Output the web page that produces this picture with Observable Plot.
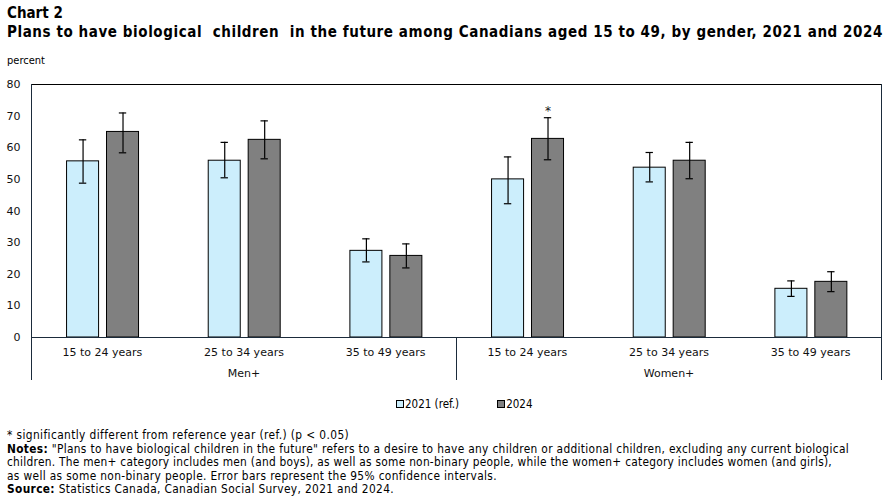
<!DOCTYPE html>
<html><head><meta charset="utf-8">
<script src="https://cdn.jsdelivr.net/npm/d3@7"></script>
<script src="https://cdn.jsdelivr.net/npm/@observablehq/plot@0.6"></script>
<style>
body{margin:0;background:#fff;width:889px;height:498px;position:relative;overflow:hidden;font-family:"DejaVu Sans Condensed","DejaVu Sans",sans-serif;color:#000}
.abs{position:absolute;white-space:nowrap}
#t1{left:7px;top:4px;font-weight:bold;font-size:15px}
#t2{left:7px;top:23px;font-weight:bold;font-size:15px}
#unit{left:7px;top:54px;font-size:11px}
#chart{position:absolute;left:0;top:74px}
#legend{top:397px;left:396px;font-size:11.5px;display:flex;align-items:center}
.sw{display:inline-block;width:6px;height:6px;border:1px solid #000;margin-right:1px}
#notes{left:7px;top:429px;font-size:11.8px;line-height:13.5px}
</style></head><body>
<div class="abs" id="t1">Chart 2</div>
<div class="abs" id="t2">Plans to have biological&nbsp; children&nbsp; in the future among Canadians aged 15 to 49, by gender, 2021 and 2024</div>
<div class="abs" id="unit">percent</div>
<div id="chart"></div>
<div class="abs" id="legend"></div>
<div class="abs" id="notes">
<span class="fit" data-w="342">* significantly different from reference year (ref.) (p &lt; 0.05)</span><br>
<span class="fit" data-w="842"><b>Notes:</b> "Plans to have biological children in the future" refers to a desire to have any children or additional children, excluding any current biological</span><br>
<span class="fit" data-w="825">children. The men+ category includes men (and boys), as well as some non-binary people, while the women+ category includes women (and girls),</span><br>
<span class="fit" data-w="490">as well as some non-binary people. Error bars represent the 95% confidence intervals.</span><br>
<span class="fit" data-w="387"><b>Source:</b> Statistics Canada, Canadian Social Survey, 2021 and 2024.</span>
</div>
<script>
const genders = ["Men+", "Women+"];
const ageGroups = ["15 to 24 years", "25 to 34 years", "35 to 49 years"];
const years = ["2021 (ref.)", "2024"];
// order: Men+ (3 age groups), Women+ (3 age groups)
const values2021 = [55.7, 55.9, 27.4, 50.0, 53.7, 15.4];
const low2021    = [48.8, 50.5, 23.9, 42.3, 49.2, 13.0];
const high2021   = [62.5, 61.7, 31.2, 57.1, 58.5, 17.9];
const values2024 = [65.0, 62.5, 25.8, 62.8, 55.9, 17.6];
const low2024    = [58.4, 56.5, 22.0, 56.2, 50.2, 14.5];
const high2024   = [71.0, 68.5, 29.6, 69.5, 61.7, 20.8];
const significant2024 = [false, false, false, true, false, false];
const yTicks = [0, 10, 20, 30, 40, 50, 60, 70, 80];
const colors = ["#CCEEFC", "#808080"];

const groups = [];
genders.forEach((g, gi) => ageGroups.forEach((a, ai) => groups.push({gender: g, age: a, group: gi * ageGroups.length + ai})));
const rows = [];
groups.forEach(gr => {
  rows.push({...gr, year: years[0], yi: 0, value: values2021[gr.group], lo: low2021[gr.group], hi: high2021[gr.group], sig: false});
  rows.push({...gr, year: years[1], yi: 1, value: values2024[gr.group], lo: low2024[gr.group], hi: high2024[gr.group], sig: significant2024[gr.group]});
});
const genderRows = genders.map((g, gi) => ({gender: g, mid: gi * ageGroups.length + (ageGroups.length - 1) / 2}));

const barW = 0.226, gap = 0.056, groupCenter = 0.505, cap = 0.026;
const center = d => d.group + groupCenter + (d.yi === 0 ? -1 : 1) * (gap / 2 + barW / 2);
const navy = "#1b2b3b";

const chart = Plot.plot({
  width: 889, height: 315,
  marginTop: 10, marginBottom: 52, marginLeft: 31, marginRight: 8,
  style: {fontFamily: "DejaVu Sans, sans-serif", fontSize: "11px", color: "#111", background: "#fff"},
  x: {domain: [0, groups.length], axis: null},
  y: {domain: [0, 80], ticks: yTicks, tickSize: 0, tickPadding: 11, label: null},
  color: {domain: years, range: colors},
  marks: [
    Plot.ruleY([80], {stroke: "#000"}),
    Plot.rect(rows, {x1: d => center(d) - barW / 2, x2: d => center(d) + barW / 2, y1: 0, y2: "value", fill: "year", stroke: "#000", strokeWidth: 1}),
    Plot.ruleX(rows, {x: center, y1: "lo", y2: "hi", stroke: "#000", strokeWidth: 1.2}),
    Plot.ruleY(rows, {y: "lo", x1: d => center(d) - cap, x2: d => center(d) + cap, stroke: "#000", strokeWidth: 1.2}),
    Plot.ruleY(rows, {y: "hi", x1: d => center(d) - cap, x2: d => center(d) + cap, stroke: "#000", strokeWidth: 1.2}),
    Plot.text(rows.filter(d => d.sig), {x: center, y: "hi", dy: -7, text: () => "*", fontSize: 12}),
    Plot.ruleY([0], {stroke: navy}),
    Plot.ruleX([0, groups.length], {stroke: navy, insetBottom: -43}),
    Plot.ruleX([ageGroups.length], {stroke: navy, insetTop: 253, insetBottom: -43}),
    Plot.text(groups, {x: d => d.group + 0.5, frameAnchor: "bottom", dy: 18, text: "age"}),
    Plot.text(genderRows, {x: d => d.mid + 0.5, frameAnchor: "bottom", dy: 39, text: "gender"})
  ]
});
document.getElementById("chart").append(chart);

const legend = document.getElementById("legend");
years.forEach((yr, i) => {
  const item = document.createElement("span");
  item.style.display = "inline-flex";
  item.style.alignItems = "center";
  item.style.marginRight = i === 0 ? "38px" : "0";
  const sw = document.createElement("span");
  sw.className = "sw";
  sw.style.background = colors[i];
  item.append(sw, document.createTextNode(yr));
  legend.append(item);
});

function fit(el, target) {
  el.style.display = "inline-block";
  const w = el.getBoundingClientRect().width;
  const n = el.textContent.length;
  el.style.letterSpacing = ((target - w) / n) + "px";
}
fit(document.getElementById("t2"), 876);
document.querySelectorAll(".fit").forEach(el => fit(el, +el.dataset.w));
</script>
</body></html>
